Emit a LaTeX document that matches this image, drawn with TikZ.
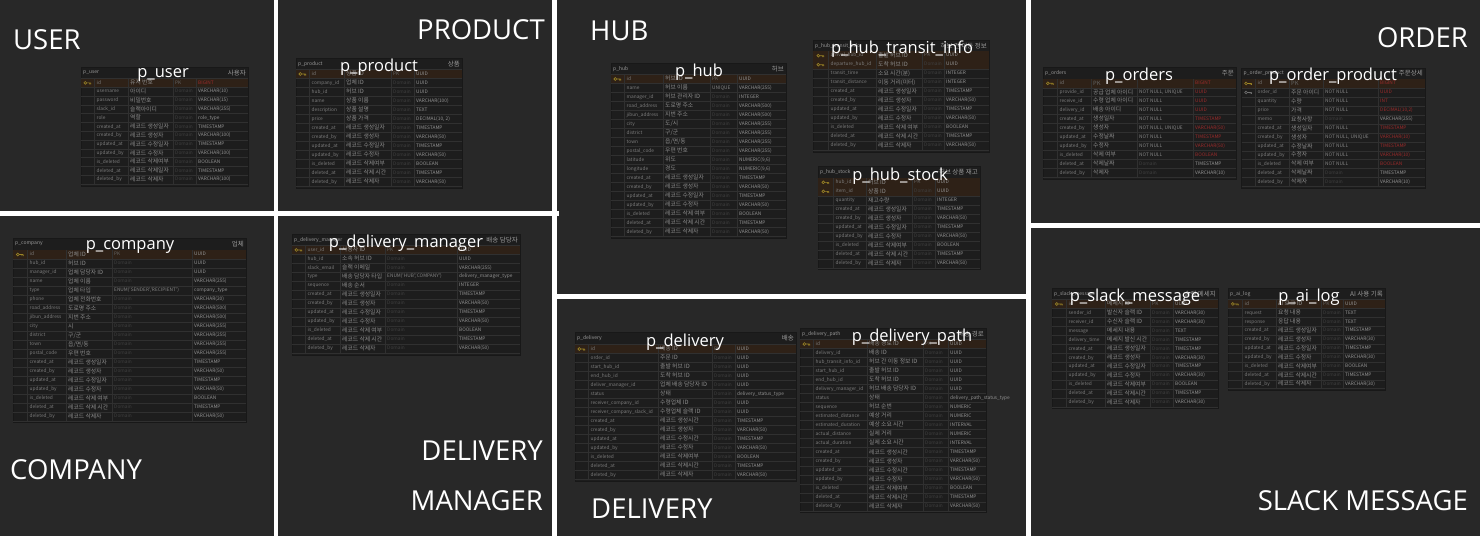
\documentclass[tikz,border=0pt]{standalone}
\usepackage{fontspec}
\setmainfont{Open Sans}
\newfontfamily\kr{Noto Sans CJK KR}
\definecolor{panel}{HTML}{282828}
\definecolor{tbg}{HTML}{1D1D1D}
\definecolor{tline}{HTML}{303030}
\definecolor{tframe}{HTML}{181818}
\definecolor{pkbg}{HTML}{2E2117}
\definecolor{keyc}{HTML}{9C8526}
\definecolor{fkc}{HTML}{707070}
\definecolor{tname}{HTML}{7C7C7C}
\definecolor{tkor}{HTML}{8C8C8C}
\definecolor{tdom}{HTML}{404040}
\definecolor{tpk}{HTML}{646464}
\definecolor{tnn}{HTML}{828282}
\definecolor{ttype}{HTML}{929292}
\definecolor{tred}{HTML}{9A2A2A}
\definecolor{thead}{HTML}{989898}
\tikzset{
  bigl/.style={text=white, font=\fontsize{27.5}{30}\selectfont, inner sep=0pt},
  tlabel/.style={text=white, font=\fontsize{16.5}{18}\selectfont, inner sep=0pt},
  cell/.style={inner sep=0pt, anchor=west, text height=3.4pt, text depth=1pt, font=\kr\fontsize{4.8}{6}\selectfont},
  korcell/.style={cell, text height=4.3pt, text depth=0.8pt, font=\kr\fontsize{5.8}{7}\selectfont},
  headl/.style={inner sep=0pt, text=thead, font=\kr\fontsize{5}{6}\selectfont},
  headr/.style={inner sep=0pt, text=thead, font=\kr\fontsize{6.5}{7}\selectfont},
  tline/.style={draw=tline, line width=0.5pt},
}
\newcommand\settable[8]{\def\tid{#1}\def\xa{#2}\def\ya{#3}\def\xb{#4}\def\xc{#5}\def\xd{#6}\def\xe{#7}\def\xf{#8}}
\newcommand\tablehead[5]{%
  \pgfmathsetmacro\yr{\ya+#1}%
  \def\rh{#2}%
  \fill[tbg] (\xa,\ya) rectangle (\xf,#5);
  \draw[tframe, line width=0.8pt] (\xa,\ya) rectangle (\xf,#5);
  \pgfmathsetmacro\yh{\ya+#1/2}%
  \node[headl, anchor=west] (\tid-title) at (\xa+2,\yh) {#3};
  \node[headr, anchor=east] (\tid-kname) at (\xf-2,\yh) {#4};
  \draw[tline] (\xa,\yr) -- (\xf,\yr);
}
\newcommand\keyicon[1]{%
  \draw[#1, line width=0.6pt] (\kx-2.2,\yc) circle[radius=1.4]
     (\kx-0.8,\yc) -- (\kx+3.2,\yc) (\kx+1.9,\yc) -- (\kx+1.9,\yc+1.5) (\kx+3.2,\yc) -- (\kx+3.2,\yc+1.5);}
\newcommand\trow[7]{%
  \pgfmathsetmacro\yt{\yr+(#1-1)*\rh}%
  \pgfmathsetmacro\yb{\yt+\rh}%
  \pgfmathsetmacro\yc{\yt+\rh/2}%
  \pgfmathsetmacro\kx{(\xa+\xb)/2}%
  \if#2k\fill[pkbg] (\xa,\yt) rectangle (\xf,\yb);\fi
  \draw[tline] (\xa,\yb) -- (\xf,\yb);
  \foreach \xx in {\xb,\xc,\xd,\xe} \draw[tline] (\xx,\yt) -- (\xx,\yb);
  \if#2k\keyicon{keyc}\fi
  \if#2f\keyicon{fkc}\fi
  \node[cell, text=tname] (\tid-#1-n) at (\xb+2.5,\yc) {#3};
  \node[korcell, text=tkor] (\tid-#1-l) at (\xc+2,\yc) {#4};
  \node[cell, text=tdom] (\tid-#1-d) at (\xd+2,\yc) {#5};
  \node[cell, text=#7] (\tid-#1-t) at (\xe+2,\yc) {#6};
}
\newcommand\rw[4]{\trow{#1}{n}{#2}{#3}{Domain}{#4}{ttype}}
\newcommand\nn{\textcolor{tnn}{NOT NULL}}
\newcommand\nnu{\textcolor{tnn}{NOT NULL, UNIQUE}}
\newcommand\pk{\textcolor{tpk}{PK}}
\begin{document}
\begin{tikzpicture}[x=1pt,y=-1pt]
\useasboundingbox (0,0) rectangle (1480,536);
% panels and dividers
\fill[white] (0,0) rectangle (1480,536);
\fill[panel] (0,0) rectangle (274,211);
\fill[panel] (278,0) rectangle (552,211);
\fill[panel] (0,216) rectangle (274,536);
\fill[panel] (278,216) rectangle (552,536);
\fill[panel] (557,0) rectangle (1026,294);
\fill[panel] (557,299) rectangle (1026,536);
\fill[panel] (1031,0) rectangle (1480,223);
\fill[panel] (1031,228) rectangle (1480,536);
\fill[white] (556,211) rectangle (558.5,216);

% ---------- p_user
\settable{pu}{81}{67}{94}{128}{173}{196}{248}
\tablehead{11.5}{8.8}{p\_user}{사용자}{186}
\trow{1}{k}{id}{유저 번호}{\pk}{BIGINT}{tred}
\rw{2}{username}{아이디}{VARCHAR(10)}
\rw{3}{password}{비밀번호}{VARCHAR(15)}
\rw{4}{slack\_id}{슬랙아이디}{VARCHAR(255)}
\rw{5}{role}{역할}{role\_type}
\rw{6}{created\_at}{레코드 생성일자}{TIMESTAMP}
\rw{7}{created\_by}{레코드 생성자}{VARCHAR(100)}
\rw{8}{updated\_at}{레코드 수정일자}{TIMESTAMP}
\rw{9}{updated\_by}{레코드 수정자}{VARCHAR(100)}
\rw{10}{is\_deleted}{레코드 삭제여부}{BOOLEAN}
\rw{11}{deleted\_at}{레코드 삭제일자}{TIMESTAMP}
\rw{12}{deleted\_by}{레코드 삭제자}{VARCHAR(100)}

% ---------- p_product
\settable{pp}{296}{58}{309}{344}{391}{414}{462}
\tablehead{11.5}{9}{p\_product}{상품}{188}
\trow{1}{k}{id}{상품 ID}{\pk}{UUID}{ttype}
\rw{2}{company\_id}{업체 ID}{UUID}
\rw{3}{hub\_id}{허브 ID}{UUID}
\rw{4}{name}{상품 이름}{VARCHAR(100)}
\rw{5}{description}{상품 설명}{TEXT}
\rw{6}{price}{상품 가격}{DECIMAL(10, 2)}
\rw{7}{created\_at}{레코드 생성일자}{TIMESTAMP}
\rw{8}{created\_by}{레코드 생성자}{VARCHAR(50)}
\rw{9}{updated\_at}{레코드 수정일자}{TIMESTAMP}
\rw{10}{updated\_by}{레코드 수정자}{VARCHAR(50)}
\rw{11}{is\_deleted}{레코드 삭제여부}{BOOLEAN}
\rw{12}{deleted\_at}{레코드 삭제 시간}{TIMESTAMP}
\rw{13}{deleted\_by}{레코드 삭제자}{VARCHAR(50)}

% ---------- p_company
\settable{pc}{13}{238}{27}{66}{112}{192}{246}
\tablehead{12}{9}{p\_company}{업체}{422.5}
\trow{1}{k}{id}{업체 ID}{\pk}{UUID}{ttype}
\rw{2}{hub\_id}{허브 ID}{UUID}
\rw{3}{manager\_id}{업체 담당자 ID}{UUID}
\rw{4}{name}{업체 이름}{VARCHAR(255)}
\trow{5}{n}{type}{업체 타입}{\textcolor{tnn}{ENUM('SENDER','RECIPIENT')}}{company\_type}{ttype}
\rw{6}{phone}{업체 전화번호}{VARCHAR(20)}
\rw{7}{road\_address}{도로명 주소}{VARCHAR(500)}
\rw{8}{jibun\_address}{지번 주소}{VARCHAR(500)}
\rw{9}{city}{시}{VARCHAR(255)}
\rw{10}{district}{구/군}{VARCHAR(255)}
\rw{11}{town}{읍/면/동}{VARCHAR(255)}
\rw{12}{postal\_code}{우편 번호}{VARCHAR(255)}
\rw{13}{created\_at}{레코드 생성일자}{TIMESTAMP}
\rw{14}{created\_by}{레코드 생성자}{VARCHAR(50)}
\rw{15}{updated\_at}{레코드 수정일자}{TIMESTAMP}
\rw{16}{updated\_by}{레코드 수정자}{VARCHAR(50)}
\rw{17}{is\_deleted}{레코드 삭제 여부}{BOOLEAN}
\rw{18}{deleted\_at}{레코드 삭제 시간}{TIMESTAMP}
\rw{19}{deleted\_by}{레코드 삭제자}{VARCHAR(50)}

% ---------- p_delivery_manager
\settable{pdm}{292}{234}{305}{340}{385}{457}{520}
\tablehead{11.5}{8.94}{p\_delivery\_manager}{배송 담당자}{355}
\trow{1}{k}{user\_id}{사용자 ID}{\pk}{UUID}{ttype}
\rw{2}{hub\_id}{소속 허브 ID}{UUID}
\rw{3}{slack\_email}{슬랙 이메일}{VARCHAR(255)}
\trow{4}{n}{type}{배송 담당자 타입}{\textcolor{tnn}{ENUM('HUB','COMPANY')}}{delivery\_manager\_type}{ttype}
\rw{5}{sequence}{배송 순서}{INTEGER}
\rw{6}{created\_at}{레코드 생성일자}{TIMESTAMP}
\rw{7}{created\_by}{레코드 생성자}{VARCHAR(50)}
\rw{8}{updated\_at}{레코드 수정일자}{TIMESTAMP}
\rw{9}{updated\_by}{레코드 수정자}{VARCHAR(50)}
\rw{10}{is\_deleted}{레코드 삭제 여부}{BOOLEAN}
\rw{11}{deleted\_at}{레코드 삭제 시간}{TIMESTAMP}
\rw{12}{deleted\_by}{레코드 삭제자}{VARCHAR(50)}

% ---------- p_hub
\settable{ph}{611}{63}{624}{663}{710}{737}{786}
\tablehead{11.5}{9}{p\_hub}{허브}{238}
\trow{1}{k}{id}{허브 ID}{\pk}{UUID}{ttype}
\trow{2}{n}{name}{허브 이름}{\textcolor{tnn}{UNIQUE}}{VARCHAR(255)}{ttype}
\rw{3}{manager\_id}{허브 관리자 ID}{INTEGER}
\rw{4}{road\_address}{도로명 주소}{VARCHAR(500)}
\rw{5}{jibun\_address}{지번 주소}{VARCHAR(500)}
\rw{6}{city}{도/시}{VARCHAR(255)}
\rw{7}{district}{구/군}{VARCHAR(255)}
\rw{8}{town}{읍/면/동}{VARCHAR(255)}
\rw{9}{postal\_code}{우편 번호}{VARCHAR(255)}
\rw{10}{latitude}{위도}{NUMERIC(9,6)}
\rw{11}{longitude}{경도}{NUMERIC(9,6)}
\rw{12}{created\_at}{레코드 생성일자}{TIMESTAMP}
\rw{13}{created\_by}{레코드 생성자}{VARCHAR(50)}
\rw{14}{updated\_at}{레코드 수정일자}{TIMESTAMP}
\rw{15}{updated\_by}{레코드 수정자}{VARCHAR(50)}
\rw{16}{is\_deleted}{레코드 삭제 여부}{BOOLEAN}
\rw{17}{deleted\_at}{레코드 삭제 시간}{TIMESTAMP}
\rw{18}{deleted\_by}{레코드 삭제자}{VARCHAR(50)}

% ---------- p_hub_transit_info
\settable{pht}{813}{40.5}{828}{876}{922}{944}{989}
\tablehead{10.7}{9}{p\_hub\_transit\_info}{허브 간 이동 정보}{152.5}
\trow{1}{k}{arrival\_hub\_id}{출발 허브 ID}{\pk}{UUID}{ttype}
\trow{2}{k}{departure\_hub\_id}{도착 허브 ID}{Domain}{UUID}{ttype}
\rw{3}{transit\_time}{소요 시간(분)}{INTEGER}
\rw{4}{transit\_distance}{이동 거리(미터)}{INTEGER}
\rw{5}{created\_at}{레코드 생성일자}{TIMESTAMP}
\rw{6}{created\_by}{레코드 생성자}{VARCHAR(50)}
\rw{7}{updated\_at}{레코드 수정일자}{TIMESTAMP}
\rw{8}{updated\_by}{레코드 수정자}{VARCHAR(50)}
\rw{9}{is\_deleted}{레코드 삭제 여부}{BOOLEAN}
\rw{10}{deleted\_at}{레코드 삭제 시간}{TIMESTAMP}
\rw{11}{deleted\_by}{레코드 삭제자}{VARCHAR(50)}

% ---------- p_hub_stock
\settable{phs}{818}{166.5}{833}{866}{912}{935}{980}
\tablehead{11.3}{9}{p\_hub\_stock}{허브 상품 재고}{269.5}
\trow{1}{k}{hub\_id}{허브 ID}{\pk}{UUID}{ttype}
\trow{2}{k}{item\_id}{상품 ID}{Domain}{UUID}{ttype}
\rw{3}{quantity}{재고수량}{INTEGER}
\rw{4}{created\_at}{레코드 생성일자}{TIMESTAMP}
\rw{5}{created\_by}{레코드 생성자}{VARCHAR(50)}
\rw{6}{updated\_at}{레코드 수정일자}{TIMESTAMP}
\rw{7}{updated\_by}{레코드 수정자}{VARCHAR(50)}
\rw{8}{is\_deleted}{레코드 삭제여부}{BOOLEAN}
\rw{9}{deleted\_at}{레코드 삭제 시간}{TIMESTAMP}
\rw{10}{deleted\_by}{레코드 삭제자}{VARCHAR(50)}

% ---------- p_orders
\settable{po}{1043}{67.5}{1057}{1091}{1137}{1193}{1236}
\tablehead{11.3}{8.97}{p\_orders}{주문}{179.5}
\trow{1}{k}{id}{\textcolor{tpk}{PK}}{}{BIGINT}{tred}
\trow{2}{n}{provide\_id}{공급 업체 아이디}{\nnu}{UUID}{tred}
\trow{3}{n}{receive\_id}{수령 업체 아이디}{\nn}{UUID}{tred}
\trow{4}{n}{delivery\_id}{배송 아이디}{\nn}{UUID}{tred}
\trow{5}{n}{created\_at}{생성일자}{\nn}{TIMESTAMP}{tred}
\trow{6}{n}{created\_by}{생성자}{\nnu}{VARCHAR(50)}{tred}
\trow{7}{n}{updated\_at}{수정날짜}{\nn}{TIMESTAMP}{tred}
\trow{8}{n}{updated\_by}{수정자}{\nn}{VARCHAR(50)}{tred}
\trow{9}{n}{is\_deleted}{삭제 여부}{\nn}{BOOLEAN}{tred}
\rw{10}{deleted\_at}{삭제날짜}{TIMESTAMP}
\rw{11}{deleted\_by}{삭제자}{VARCHAR(10)}

% ---------- p_order_product
\settable{pop}{1241.5}{68}{1255}{1289}{1323}{1378}{1425}
\tablehead{11}{8.97}{p\_order\_product}{주문상세}{188.5}
\trow{1}{k}{id}{\textcolor{tpk}{PK}}{}{BIGINT}{tred}
\trow{2}{f}{order\_id}{주문 아이디}{\nn}{UUID}{tred}
\trow{3}{n}{quantity}{수량}{\nn}{INT}{tred}
\trow{4}{n}{price}{가격}{\nn}{DECIMAL(10,2)}{tred}
\rw{5}{memo}{요청사항}{VARCHAR(255)}
\trow{6}{n}{created\_at}{생성일자}{\nn}{TIMESTAMP}{tred}
\trow{7}{n}{created\_by}{생성자}{\nnu}{VARCHAR(10)}{tred}
\trow{8}{n}{updated\_at}{수정날짜}{\nn}{TIMESTAMP}{tred}
\trow{9}{n}{updated\_by}{수정자}{\nn}{VARCHAR(10)}{tred}
\trow{10}{n}{is\_deleted}{삭제 여부}{\nn}{BOOLEAN}{tred}
\rw{11}{deleted\_at}{삭제날짜}{TIMESTAMP}
\rw{12}{deleted\_by}{삭제자}{VARCHAR(10)}

% ---------- p_delivery
\settable{pd}{575}{332.5}{588}{658}{712}{735}{796}
\tablehead{12}{9}{p\_delivery}{배송}{481.5}
\trow{1}{k}{id}{배송 ID}{\pk}{UUID}{ttype}
\rw{2}{order\_id}{주문 ID}{UUID}
\rw{3}{start\_hub\_id}{출발 허브 ID}{UUID}
\rw{4}{end\_hub\_id}{도착 허브 ID}{UUID}
\rw{5}{deliver\_manager\_id}{업체 배송 담당자 ID}{UUID}
\rw{6}{status}{상태}{delivery\_status\_type}
\rw{7}{receiver\_company\_id}{수령업체 ID}{UUID}
\rw{8}{receiver\_company\_slack\_id}{수령업체 슬랙 ID}{UUID}
\rw{9}{created\_at}{레코드 생성시간}{TIMESTAMP}
\rw{10}{created\_by}{레코드 생성자}{VARCHAR(50)}
\rw{11}{updated\_at}{레코드 수정시간}{TIMESTAMP}
\rw{12}{updated\_by}{레코드 수정자}{VARCHAR(50)}
\rw{13}{is\_deleted}{레코드 삭제여부}{BOOLEAN}
\rw{14}{deleted\_at}{레코드 삭제시간}{TIMESTAMP}
\rw{15}{deleted\_by}{레코드 삭제자}{VARCHAR(50)}

% ---------- p_delivery_path
\settable{pdp}{800}{328}{813}{867}{923}{948}{986}
\tablehead{11.5}{9.02}{p\_delivery\_path}{배송 경로}{512.5}
\trow{1}{k}{id}{배송 경로 ID}{\pk}{UUID}{ttype}
\rw{2}{delivery\_id}{배송 ID}{UUID}
\rw{3}{hub\_transit\_info\_id}{허브 간 이동 정보 ID}{UUID}
\rw{4}{start\_hub\_id}{출발 허브 ID}{UUID}
\rw{5}{end\_hub\_id}{도착 허브 ID}{UUID}
\rw{6}{delivery\_manager\_id}{허브 배송 담당자 ID}{UUID}
\rw{7}{status}{상태}{delivery\_path\_status\_type}
\rw{8}{sequence}{허브 순번}{NUMERIC}
\rw{9}{estimated\_distance}{예상 거리}{NUMERIC}
\rw{10}{estimated\_duration}{예상 소요 시간}{INTERVAL}
\rw{11}{actual\_distance}{실제 거리}{NUMERIC}
\rw{12}{actual\_duration}{실제 소요 시간}{INTERVAL}
\rw{13}{created\_at}{레코드 생성시간}{TIMESTAMP}
\rw{14}{created\_by}{레코드 생성자}{VARCHAR(50)}
\rw{15}{updated\_at}{레코드 수정시간}{TIMESTAMP}
\rw{16}{updated\_by}{레코드 수정자}{VARCHAR(50)}
\rw{17}{is\_deleted}{레코드 삭제여부}{BOOLEAN}
\rw{18}{deleted\_at}{레코드 삭제시간}{TIMESTAMP}
\rw{19}{deleted\_by}{레코드 삭제자}{VARCHAR(50)}

% ---------- p_slack_message
\settable{psm}{1052}{288}{1066}{1105}{1150}{1173}{1218}
\tablehead{11.5}{8.97}{p\_slack\_message}{슬랙 메세지}{408.5}
\trow{1}{k}{id}{메세지 ID}{\pk}{UUID}{ttype}
\rw{2}{sender\_id}{발신자 슬랙 ID}{VARCHAR(30)}
\rw{3}{receiver\_id}{수신자 슬랙 ID}{VARCHAR(30)}
\rw{4}{message}{메세지 내용}{TEXT}
\rw{5}{delivery\_time}{메세지 발신 시간}{TIMESTAMP}
\rw{6}{created\_at}{레코드 생성일자}{TIMESTAMP}
\rw{7}{created\_by}{레코드 생성자}{VARCHAR(30)}
\rw{8}{updated\_at}{레코드 수정일자}{TIMESTAMP}
\rw{9}{updated\_by}{레코드 수정자}{VARCHAR(30)}
\rw{10}{is\_deleted}{레코드 삭제여부}{BOOLEAN}
\rw{11}{deleted\_at}{레코드 삭제시간}{TIMESTAMP}
\rw{12}{deleted\_by}{레코드 삭제자}{VARCHAR(30)}

% ---------- p_ai_log
\settable{pal}{1228}{288}{1242}{1276}{1321}{1343}{1385}
\tablehead{11.5}{8.92}{p\_ai\_log}{AI 사용 기록}{390.5}
\trow{1}{k}{id}{AI 로그 ID}{\pk}{UUID}{ttype}
\rw{2}{request}{요청 내용}{TEXT}
\rw{3}{response}{응답 내용}{TEXT}
\rw{4}{created\_at}{레코드 생성일자}{TIMESTAMP}
\rw{5}{created\_by}{레코드 생성자}{VARCHAR(30)}
\rw{6}{updated\_at}{레코드 수정일자}{TIMESTAMP}
\rw{7}{updated\_by}{레코드 수정자}{VARCHAR(30)}
\rw{8}{is\_deleted}{레코드 삭제여부}{BOOLEAN}
\rw{9}{deleted\_at}{레코드 삭제시간}{TIMESTAMP}
\rw{10}{deleted\_by}{레코드 삭제자}{VARCHAR(30)}

% ---------- white table labels
\node[tlabel] (Lpu) at (163,75) {p\_user};
\node[tlabel] (Lpp) at (379,67) {p\_product};
\node[tlabel] (Lpc) at (130,247) {p\_company};
\node[tlabel] (Lpdm) at (406,243) {p\_delivery\_manager};
\node[tlabel] (Lph) at (699,72) {p\_hub};
\node[tlabel] (Lpht) at (902,49) {p\_hub\_transit\_info};
\node[tlabel] (Lphs) at (900,176) {p\_hub\_stock};
\node[tlabel] (Lpo) at (1139,76) {p\_orders};
\node[tlabel] (Lpop) at (1333,76) {p\_order\_product};
\node[tlabel] (Lpd) at (685,342) {p\_delivery};
\node[tlabel] (Lpdp) at (912,337) {p\_delivery\_path};
\node[tlabel] (Lpsm) at (1135,297) {p\_slack\_message};
\node[tlabel] (Lpal) at (1309,297) {p\_ai\_log};

% ---------- section titles
\node[bigl, anchor=base west] (sUser) at (13,49) {USER};
\node[bigl, anchor=base east] (sProduct) at (545,39) {PRODUCT};
\node[bigl, anchor=base west] (sHub) at (590,40) {HUB};
\node[bigl, anchor=base east] (sOrder) at (1468,47) {ORDER};
\node[bigl, anchor=base west] (sCompany) at (10,479) {COMPANY};
\node[bigl, anchor=base east] (sDM1) at (543,460) {DELIVERY};
\node[bigl, anchor=base east] (sDM2) at (543,510) {MANAGER};
\node[bigl, anchor=base west] (sDelivery) at (591,518) {DELIVERY};
\node[bigl, anchor=base east] (sSlack) at (1468,510) {SLACK MESSAGE};
\end{tikzpicture}
\end{document}
